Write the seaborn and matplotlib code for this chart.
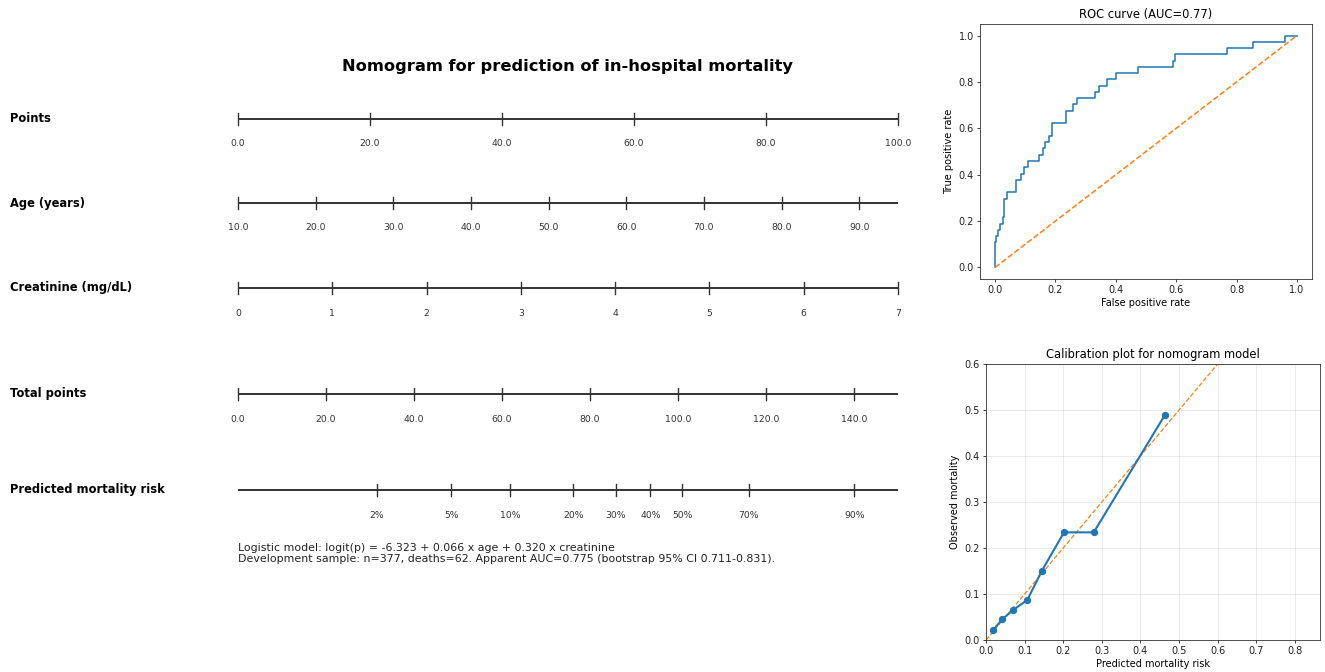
import numpy as np
import pandas as pd
import matplotlib
matplotlib.use("Agg")
import matplotlib.pyplot as plt
import matplotlib.transforms as mtransforms
import seaborn as sns

# ---------------- data ----------------
# ROC curve corner points (false positive rate, true positive rate)
roc_fpr = [0.000, 0.000, 0.003, 0.003, 0.008, 0.008, 0.016, 0.016, 0.027, 0.027,
           0.030, 0.030, 0.038, 0.038, 0.070, 0.070, 0.086, 0.086, 0.097, 0.097,
           0.108, 0.108, 0.145, 0.145, 0.160, 0.160, 0.165, 0.165, 0.178, 0.178,
           0.187, 0.187, 0.236, 0.236, 0.258, 0.258, 0.272, 0.272, 0.330, 0.330,
           0.345, 0.345, 0.370, 0.370, 0.402, 0.402, 0.474, 0.474, 0.590, 0.590,
           0.597, 0.597, 0.770, 0.770, 0.856, 0.856, 0.960, 0.960, 1.000]
roc_tpr = [0.000, 0.108, 0.108, 0.135, 0.135, 0.162, 0.162, 0.189, 0.189, 0.216,
           0.216, 0.297, 0.297, 0.324, 0.324, 0.378, 0.378, 0.405, 0.405, 0.432,
           0.432, 0.459, 0.459, 0.486, 0.486, 0.514, 0.514, 0.541, 0.541, 0.568,
           0.568, 0.622, 0.622, 0.676, 0.676, 0.703, 0.703, 0.730, 0.730, 0.757,
           0.757, 0.784, 0.784, 0.811, 0.811, 0.838, 0.838, 0.865, 0.865, 0.892,
           0.892, 0.919, 0.919, 0.946, 0.946, 0.973, 0.973, 1.000, 1.000]
roc_auc = 0.77
chance_line = [0.0, 1.0]

# Calibration (predicted vs observed by risk group)
cal_pred = [0.019, 0.042, 0.070, 0.107, 0.145, 0.202, 0.279, 0.464]
cal_obs = [0.022, 0.045, 0.065, 0.087, 0.151, 0.234, 0.234, 0.490]

# Logistic model
b0, b_age, b_creat = -6.323, 0.066, 0.320
n_total, n_deaths = 377, 62
auc_app, ci_lo, ci_hi = 0.775, 0.711, 0.831

# Nomogram scales
points_ticks = [0, 20, 40, 60, 80, 100]
age_range = (10, 95)
age_ticks = [10, 20, 30, 40, 50, 60, 70, 80, 90]
creat_range = (0, 7)
creat_ticks = [0, 1, 2, 3, 4, 5, 6, 7]
total_range = (0, 150)
total_ticks = [0, 20, 40, 60, 80, 100, 120, 140]
risk_ticks = [0.02, 0.05, 0.10, 0.20, 0.30, 0.40, 0.50, 0.70, 0.90]
risk_labels = ["2%", "5%", "10%", "20%", "30%", "40%", "50%", "70%", "90%"]

row_names = ["Points", "Age (years)", "Creatinine (mg/dL)", "Total points",
             "Predicted mortality risk"]

# ---------------- figure ----------------
W, H = 1325, 672
fig = plt.figure(figsize=(W / 100, H / 100), dpi=100)


def fpos(l, t, r, b):
    return [l / W, 1 - b / H, (r - l) / W, (b - t) / H]


# ---- nomogram (x in points units, y in pixel rows) ----
x0_px, x1_px = 238, 898
ppu = (x1_px - x0_px) / 100.0
axn = fig.add_axes([0, 0, 1, 1])
axn.set_xlim(-x0_px / ppu, (W - x0_px) / ppu)
axn.set_ylim(H, 0)
axn.axis("off")

row_y = [119, 203, 288, 394, 490]
line_col = "#333333"
tick_half = 6
lab_off = 25
tick_fs = 6.7


def to_pts(v, rng):
    return (np.asarray(v, float) - rng[0]) / (rng[1] - rng[0]) * 100.0


def draw_row(y, tick_pos, labels):
    axn.plot([0, 100], [y, y], color=line_col, lw=1.4, solid_capstyle="butt")
    for xp, lab in zip(tick_pos, labels):
        axn.plot([xp, xp], [y - tick_half, y + tick_half], color=line_col, lw=1.0)
        axn.text(xp, y + lab_off, lab, ha="center", va="center",
                 fontsize=tick_fs, color="#333333")


# Points
draw_row(row_y[0], to_pts(points_ticks, (0, 100)), [f"{v:.1f}" for v in points_ticks])
# Age
draw_row(row_y[1], to_pts(age_ticks, age_range), [f"{v:.1f}" for v in age_ticks])
# Creatinine
draw_row(row_y[2], to_pts(creat_ticks, creat_range), [f"{v}" for v in creat_ticks])
# Total points
draw_row(row_y[3], to_pts(total_ticks, total_range), [f"{v:.1f}" for v in total_ticks])
# Predicted risk: total points for each probability
pts_per_logit = 100.0 / (b_age * (age_range[1] - age_range[0]))
base_logit = b0 + b_age * age_range[0]
risk_logit = np.log(np.array(risk_ticks) / (1 - np.array(risk_ticks)))
risk_total = (risk_logit - base_logit) * pts_per_logit
draw_row(row_y[4], to_pts(risk_total, total_range), risk_labels)

trans_lab = mtransforms.blended_transform_factory(fig.transFigure, axn.transData)
for name, y in zip(row_names, row_y):
    axn.text(10 / W, y, name, transform=trans_lab, ha="left", va="center",
             fontsize=8.3, fontweight="bold", color="black")

axn.text(568 / W, 67, "Nomogram for prediction of in-hospital mortality",
         transform=trans_lab, ha="center", va="center", fontsize=11.7,
         fontweight="bold", color="black")

note = (f"Logistic model: logit(p) = {b0:.3f} + {b_age:.3f} x age + {b_creat:.3f} x creatinine\n"
        f"Development sample: n={n_total}, deaths={n_deaths}. Apparent AUC={auc_app:.3f} "
        f"(bootstrap 95% CI {ci_lo:.3f}-{ci_hi:.3f}).")
axn.text(0, 553.5, note, ha="left", va="center", fontsize=7.95, color="#222222",
         linespacing=1.02)

# ---- ROC curve ----
small = 7.0
ax_roc = fig.add_axes(fpos(980, 24, 1312, 279))
roc_df = pd.DataFrame({"fpr": roc_fpr, "tpr": roc_tpr})
sns.lineplot(data=roc_df, x="fpr", y="tpr", sort=False, estimator=None,
             color="#1f77b4", lw=1.1, ax=ax_roc)
sns.lineplot(x=chance_line, y=chance_line, linestyle="--", color="#ff7f0e",
             lw=1.1, ax=ax_roc)
ax_roc.set_xlim(-0.05, 1.05)
ax_roc.set_ylim(-0.05, 1.05)
ax_roc.set_xticks(np.arange(0, 1.01, 0.2))
ax_roc.set_yticks(np.arange(0, 1.01, 0.2))
ax_roc.set_xlabel("False positive rate", fontsize=small, labelpad=2)
ax_roc.set_ylabel("True positive rate", fontsize=small, labelpad=3)
ax_roc.set_title(f"ROC curve (AUC={roc_auc:.2f})", fontsize=8.3, pad=4)

# ---- Calibration ----
ax_cal = fig.add_axes(fpos(986, 364, 1320, 640))
ax_cal.grid(True, color="#b0b0b0", alpha=0.3, lw=0.6)
ax_cal.set_axisbelow(True)
sns.lineplot(x=chance_line, y=chance_line, linestyle="--", color="#ff7f0e",
             lw=0.9, ax=ax_cal)
cal_df = pd.DataFrame({"pred": cal_pred, "obs": cal_obs})
sns.lineplot(data=cal_df, x="pred", y="obs", sort=False, estimator=None,
             color="#1f77b4", lw=1.5, marker="o", markersize=4.5,
             markeredgecolor="#1f77b4", ax=ax_cal)
ax_cal.set_xlim(0, 0.865)
ax_cal.set_ylim(0, 0.6)
ax_cal.set_xticks(np.arange(0, 0.81, 0.1))
ax_cal.set_yticks(np.arange(0, 0.61, 0.1))
ax_cal.set_xlabel("Predicted mortality risk", fontsize=small, labelpad=2)
ax_cal.set_ylabel("Observed mortality", fontsize=small, labelpad=3)
ax_cal.set_title("Calibration plot for nomogram model", fontsize=8.3, pad=4)

for a in (ax_roc, ax_cal):
    a.tick_params(labelsize=small, length=2.5, width=0.6, pad=2, colors="#222222")
    for s in a.spines.values():
        s.set_linewidth(0.6)
        s.set_color("#333333")

fig.savefig("out.png", dpi=100)
